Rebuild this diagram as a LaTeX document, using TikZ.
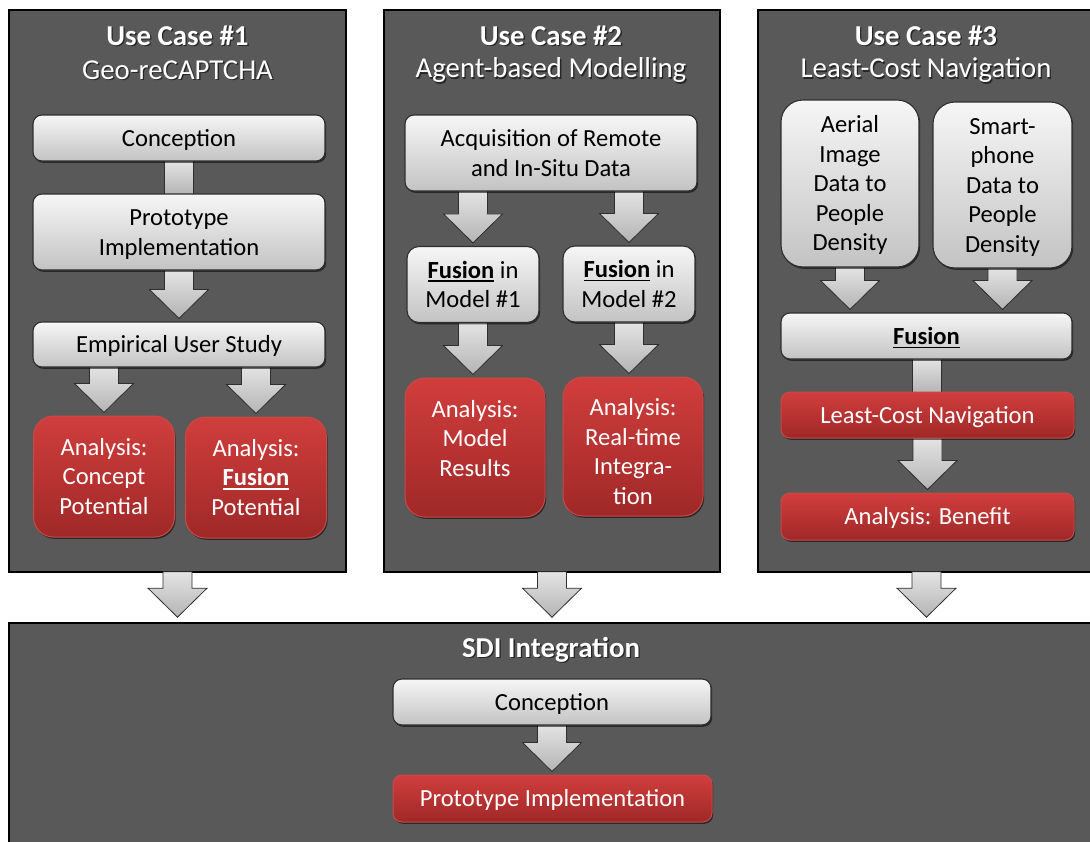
\documentclass[tikz,border=0pt]{standalone}
\usepackage{fontspec}
\setmainfont{Carlito}
\usetikzlibrary{calc,shadows}

\definecolor{panelgray}{HTML}{595959}
\definecolor{greytop}{HTML}{F6F6F6}
\definecolor{greybot}{HTML}{C3C3C3}
\definecolor{boxline}{HTML}{2E2E2E}
\definecolor{redtop}{HTML}{D03E3C}
\definecolor{redbot}{HTML}{A02828}
\definecolor{redline}{HTML}{C84A48}
\definecolor{arrowtop}{HTML}{E4E4E4}
\definecolor{arrowbot}{HTML}{B4B4B4}
\definecolor{arrowline}{HTML}{2E2E2E}

\pgfdeclarelayer{panel}
\pgfdeclarelayer{link}
\pgfsetlayers{panel,link,main}

% white heading text with a dark offset copy behind it
\newcommand\glow[1]{\makebox[0pt][l]{\hspace{1.3pt}\raisebox{-1.3pt}{\textcolor{black!85}{#1}}}#1}
% bold, underlined keyword
\newcommand\fusionword{\setbox0\hbox{\textbf{Fusion}}\rlap{\rule[-3.6pt]{\wd0}{1.5pt}}\box0}
% invisible strut giving a text line the full ascent and descent of the font
\newcommand\ls{\rule[-6.3pt]{0pt}{29.5pt}}

% block arrow: x taken from #2, running from the bottom of #3 to just above the top of #4
\newcommand\flowarrow[4][3pt]{%
  \path[blockarrow] let \p1=(#2.center), \p2=(#3.south), \p3=(#4.north) in
    (\x1-14.5pt,\y2+1pt) -- (\x1-14.5pt,\y3+#1+29pt) -- (\x1-29.5pt,\y3+#1+29pt)
    -- (\x1,\y3+#1) -- (\x1+29.5pt,\y3+#1+29pt) -- (\x1+14.5pt,\y3+#1+29pt)
    -- (\x1+14.5pt,\y2+1pt) -- cycle;}
% plain bar joining two boxes
\newcommand\flowbar[3]{%
  \path[blockarrow] let \p1=(#1.center), \p2=(#2.south), \p3=(#3.north) in
    (\x1-14.5pt,\y2+1pt) rectangle (\x1+14.5pt,\y3-1pt);}

\tikzset{
  panelbox/.style={draw=black, line width=1.6pt, fill=panelgray, inner sep=0pt},
  boxshadow/.style={drop shadow={shadow xshift=1.2pt, shadow yshift=-1.8pt, opacity=0.55, fill=black}},
  boxfont/.style={inner sep=0pt, align=center, font=\fontsize{24.6}{29.5}\selectfont},
  greybox/.style={boxshadow, boxfont, draw=boxline, line width=1.1pt, top color=greytop,
    bottom color=greybot, rounded corners=9pt, text=black},
  redbox/.style={boxshadow, boxfont, draw=redline, line width=1pt, top color=redtop,
    bottom color=redbot, rounded corners=9pt, text=white},
  redtext/.style={boxfont, text=white},
  headbold/.style={inner sep=0pt, text=white, font=\fontsize{28.8}{34}\selectfont\bfseries},
  headplain/.style={inner sep=0pt, text=white, font=\fontsize{28.8}{34}\selectfont},
  blockarrow/.style={draw=arrowline, line width=0.8pt, top color=arrowtop, bottom color=arrowbot},
}

\begin{document}
\begin{tikzpicture}[x=1pt, y=-1pt]
\useasboundingbox (0,0) rectangle (1090,841);
\clip (0,0) rectangle (1090,841);

% ---------- panels ----------
\begin{pgfonlayer}{panel}
  \node[panelbox, minimum width=337pt, minimum height=562pt] (uc1) at (177.5,291) {};
  \node[panelbox, minimum width=336pt, minimum height=562pt] (uc2) at (552,291) {};
  \node[panelbox, minimum width=337pt, minimum height=562pt] (uc3) at (926.5,291) {};
  \node[panelbox, minimum width=1086pt, minimum height=224pt] (sdi) at (552,735) {};
\end{pgfonlayer}

% ---------- headings ----------
\node[headbold]  (uc1-title) at (177.5,36) {\glow{Use Case \#1}};
\node[headplain] (uc1-name)  at (177.5,71) {\glow{Geo-reCAPTCHA}};
\node[headbold]  (uc2-title) at (551,36) {\glow{Use Case \#2}};
\node[headplain] (uc2-name)  at (551,71) {\glow{Agent-based Modelling}};
\node[headbold]  (uc3-title) at (926,36) {\glow{Use Case \#3}};
\node[headplain] (uc3-name)  at (926,71) {\glow{Least-Cost Navigation}};
\node[headbold]  (sdi-title) at (551,650) {\glow{SDI Integration}};

% ---------- use case 1 ----------
\node[greybox, minimum width=292pt, minimum height=46pt] (c1) at (179,138) {\ls Conception};
\node[greybox, minimum width=292pt, minimum height=76pt] (p1) at (179,232) {\ls Prototype\\Implementation\ls};
\node[greybox, minimum width=292pt, minimum height=45pt] (e1) at (179,344.5) {\ls Empirical User Study};
\node[redbox, rounded corners=20pt, minimum width=141pt, minimum height=121pt] (r1a) at (104,476.5)
  {\ls Analysis:\\Concept\\Potential\ls};
\node[redbox, rounded corners=20pt, minimum width=141pt, minimum height=121pt] (r1b) at (256,477.5)
  {\ls Analysis:\\\fusionword\\Potential\ls};

% ---------- use case 2 ----------
\node[greybox, minimum width=292pt, minimum height=76pt] (a2) at (551,153)
  {\ls Acquisition of Remote\\and In-Situ Data\ls};
\node[greybox, rounded corners=12pt, minimum width=132pt, minimum height=76pt] (f2a) at (473,284.5)
  {\ls\fusionword{} in\\Model \#1\ls};
\node[greybox, rounded corners=12pt, minimum width=132pt, minimum height=76pt] (f2b) at (629,284)
  {\ls\fusionword{} in\\Model \#2\ls};
\node[redbox, rounded corners=20pt, minimum width=140pt, minimum height=139pt] (r2a) at (475,447.5) {};
\node[redtext] (r2a-text) at ([yshift=9pt]r2a.center) {\ls Analysis:\\Model\\Results\ls};
\node[redbox, rounded corners=20pt, minimum width=140pt, minimum height=139pt] (r2b) at (633,446.5) {};
\node[redtext] (r2b-text) at ([yshift=-5pt]r2b.center) {\ls Analysis:\\Real-time\\Integra-\\tion\ls};

% ---------- use case 3 ----------
\node[greybox, rounded corners=22pt, minimum width=138pt, minimum height=167pt] (d3a) at (850,183.5)
  {\ls Aerial\\Image\\Data to\\People\\Density\ls};
\node[greybox, rounded corners=22pt, minimum width=139pt, minimum height=166pt] (d3b) at (1002.5,185)
  {\ls Smart-\\phone\\Data to\\People\\Density\ls};
\node[greybox, minimum width=291pt, minimum height=46pt] (fu3) at (926.5,336) {\ls\fusionword};
\node[redbox, minimum width=293pt, minimum height=46pt] (l3) at (927.5,415) {\ls Least-Cost Navigation};
\node[redbox, minimum width=293pt, minimum height=47pt] (b3) at (927.5,516.5) {\ls Analysis: Benefit};

% ---------- SDI integration ----------
\node[greybox, minimum width=318pt, minimum height=46pt] (c4) at (552,702) {\ls Conception};
\node[redbox, minimum width=319pt, minimum height=47pt] (p4) at (552.5,798.5) {\ls Prototype Implementation};

% ---------- connectors ----------
\begin{pgfonlayer}{link}
  \flowbar{c1}{c1}{p1}
  \flowarrow{p1}{p1}{e1}
  \flowarrow{r1a}{e1}{r1a}
  \flowarrow{r1b}{e1}{r1b}

  \flowarrow{f2a}{a2}{f2a}
  \flowarrow{f2b}{a2}{f2b}
  \flowarrow{f2a}{f2a}{r2a}
  \flowarrow{f2b}{f2b}{r2b}

  \flowarrow{d3a}{d3a}{fu3}
  \flowarrow{d3b}{d3b}{fu3}
  \flowbar{fu3}{fu3}{l3}
  \flowarrow{l3}{l3}{b3}

  \flowarrow{c4}{c4}{p4}

  \flowarrow[5pt]{uc1}{uc1}{sdi}
  \flowarrow[5pt]{uc2}{uc2}{sdi}
  \flowarrow[5pt]{uc3}{uc3}{sdi}
\end{pgfonlayer}
\end{tikzpicture}
\end{document}
